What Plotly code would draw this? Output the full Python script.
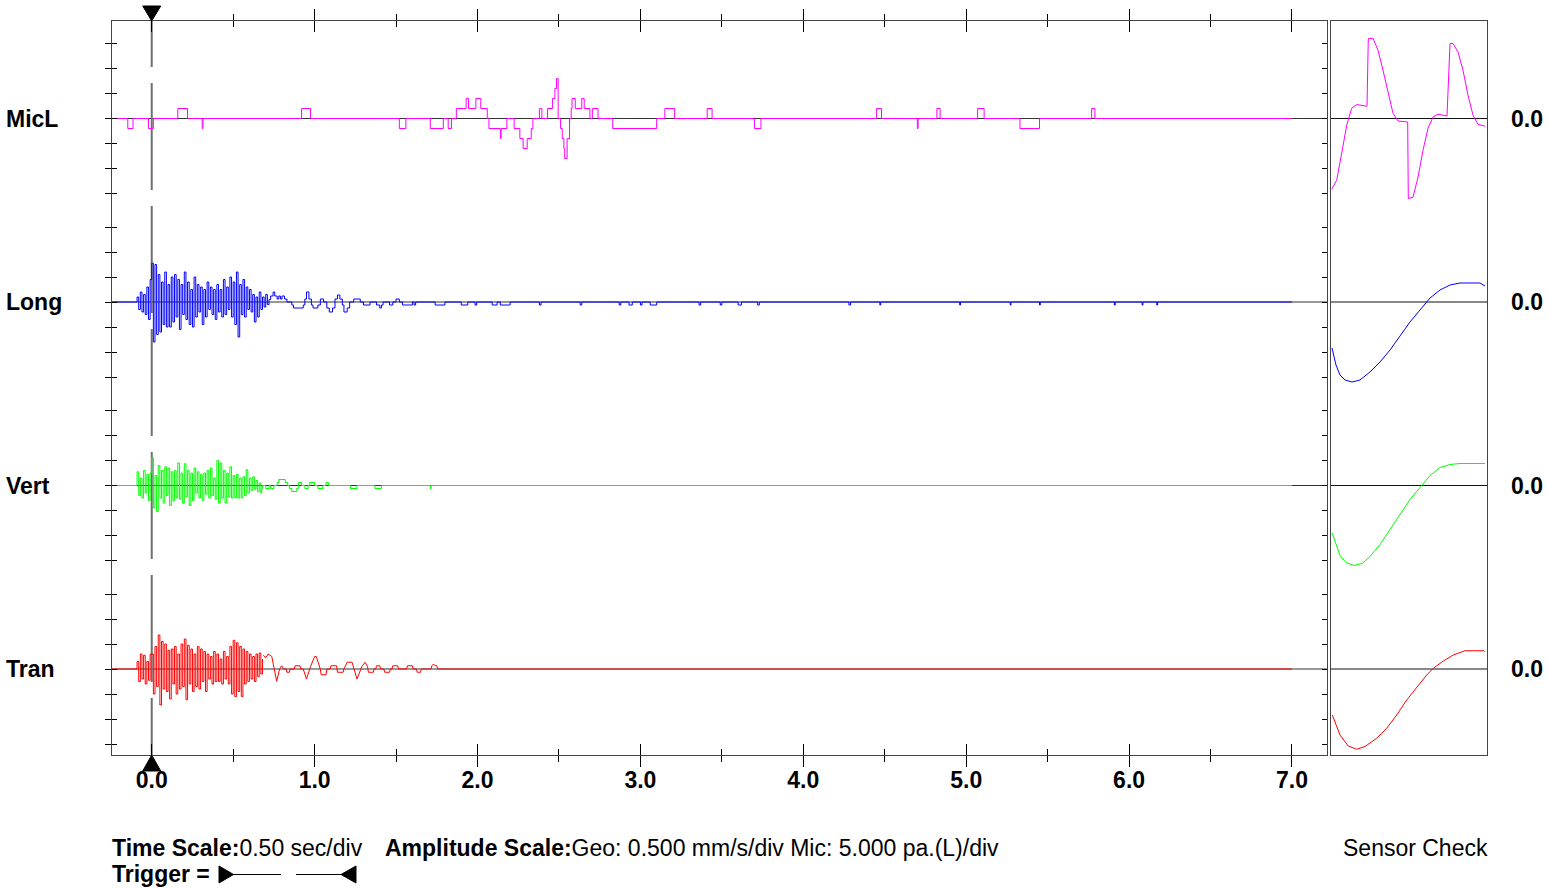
import plotly.graph_objects as go

# ---------------- data ----------------
channels = ["MicL", "Long", "Vert", "Tran"]
colors = ["#ff00ff", "#0000ff", "#00ff00", "#ff0000"]
x_tick_vals = [0, 1, 2, 3, 4, 5, 6, 7]
x_tick_text = ["0.0", "1.0", "2.0", "3.0", "4.0", "5.0", "6.0", "7.0"]
x_minor_vals = [0.5, 1.5, 2.5, 3.5, 4.5, 5.5, 6.5]
record_start = -0.247
record_end = 7.0
trigger_time = 0.0

# MicL: step change times (s) and levels (div)
mic_t = [-0.147, -0.115, -0.02, 0.01, 0.16, 0.22, 0.31, 0.315, 0.92, 0.975, 1.52, 1.56, 1.71, 1.79,
         1.82, 1.84, 1.87, 1.93, 1.945, 1.99, 2.02, 2.06, 2.07, 2.14, 2.145, 2.18, 2.225, 2.26, 2.28,
         2.305, 2.33, 2.34, 2.38, 2.395, 2.43, 2.46, 2.475, 2.485, 2.495, 2.51, 2.52, 2.53, 2.535,
         2.55, 2.565, 2.575, 2.58, 2.6, 2.64, 2.655, 2.69, 2.705, 2.74, 2.83, 3.10, 3.15, 3.21, 3.41,
         3.44, 3.7, 3.74, 4.45, 4.48, 4.7, 4.705, 4.82, 4.84, 5.07, 5.11, 5.33, 5.45, 5.77, 5.79]
mic_v = [-0.4, 0, -0.4, 0, 0.4, 0, -0.4, 0, 0.4, 0, -0.4, 0, -0.4, 0,
         -0.4, 0, 0.4, 0.8, 0.4, 0.8, 0.4, 0, -0.4, -0.8, -0.4, 0, -0.4, -0.8, -1.2,
         -0.8, -0.4, 0, 0.4, 0, 0.4, 0.8, 1.2, 1.6, 0, -0.4, -0.8, -1.2, -1.6,
         -0.8, 0, 0.4, 0.8, 0.4, 0.8, 0.4, 0, 0.4, 0, -0.4, 0, 0.4, 0, 0.4,
         0, -0.4, 0, 0.4, 0, -0.4, 0, 0.4, 0, 0.4, 0, -0.4, 0, 0.4, 0]

# Geophone bursts: sampled every 0.01 s starting at -0.09 s (div)
burst_start = -0.09
burst_dt = 0.01
long_burst = [0.2, -0.3, 0.4, -0.4, 0.3, -0.5, 0.6, -0.7, 0.9,
              1.55, -1.6, 1.5, -1.3, 1.1, -1.2, 0.8, -0.9, 1.2, -1.0,
              0.7, -1.0, 1.0, -0.8, 1.1, -0.6, 0.9, -1.1, 0.7, -0.5,
              1.2, -0.7, 0.8, -0.9, 0.5, -1.0, 1.0, -0.6, 0.7, -0.4,
              0.6, -0.9, 0.5, -0.6, 0.8, -0.3, 0.6, -0.5, 0.5, -0.7,
              0.7, -0.4, 0.5, -0.6, 0.9, -0.5, 0.6, -0.3, 1.0, -0.6,
              0.8, -0.9, 1.2, -1.4, 0.7, -0.5, 0.9, -0.6, 0.6, -0.3,
              0.5, -0.4, 0.3, -0.8, 0.2, -0.6, 0.4, -0.3, 0.2, -0.2,
              0.3, -0.1, 0.1]
vert_burst = [0.55, -0.4, 0.3, -0.5, 0.6, -0.3, 0.45, -0.6, 0.5,
              1.13, -0.9, 0.4, -1.04, 0.8, -0.5, 0.6, -0.7, 0.75, -0.4,
              0.7, -0.8, 0.55, -0.6, 0.6, -0.5, 0.9, -0.55, 0.5, -0.7,
              0.87, -0.45, 0.6, -0.8, 0.5, -0.6, 0.7, -0.3, 0.55, -0.5,
              0.45, -0.6, 0.5, -0.35, 0.6, -0.5, 0.7, -0.4, 0.3, -0.55,
              1.0, -0.7, 0.9, -0.5, 0.6, -0.7, 0.5, -0.45, 0.75, -0.5,
              0.4, -0.5, 0.45, -0.5, 0.3, -0.5, 0.35, -0.4, 0.63, -0.3,
              0.3, -0.2, 0.35, -0.15, 0.2, -0.25, 0.1, -0.3]
tran_burst = [0.3, -0.5, 0.6, -0.4, 0.55, -0.6, 0.3, -0.45, 0.6,
              0.6, -1.0, 0.9, -0.7, 1.36, -1.44, 1.1, -0.8, 1.0, -0.9,
              0.75, -1.2, 0.8, -0.6, 0.9, -1.0, 0.6, -0.8, 1.0, -0.7,
              1.2, -1.23, 0.95, -0.6, 0.8, -0.9, 0.6, -0.7, 0.9, -0.8,
              0.8, -0.5, 0.7, -0.9, 0.6, -0.4, 0.5, -0.6, 0.7, -0.5,
              0.6, -0.5, 0.4, -0.6, 0.7, -0.4, 0.5, -0.6, 0.9, -1.0,
              1.15, -1.1, 1.05, -0.9, 0.9, -1.1, 0.8, -0.6, 0.7, -0.5,
              0.6, -0.4, 0.5, -0.5, 0.6, -0.3, 0.64, -0.2, 0.4]

# Long tail: step changes, then small single-count blips
long_tail_t = [0.73, 0.745, 0.755, 0.77, 0.78, 0.79, 0.80, 0.815, 0.83, 0.86, 0.87, 0.93, 0.94, 0.95,
               0.965, 0.98, 0.99, 1.02, 1.035, 1.055, 1.075, 1.09, 1.11, 1.125, 1.14, 1.155, 1.17, 1.18,
               1.2, 1.215, 1.24, 1.28, 1.30, 1.34, 1.38, 1.40, 1.41, 1.42, 1.46, 1.48, 1.50, 1.52, 1.54, 1.60]
long_tail_v = [0.24, 0.4, 0.24, 0.12, 0.24, 0.12, 0.24, 0.12, 0, -0.12, -0.24, -0.12, 0.12, 0.4,
               0.12, -0.12, -0.24, -0.12, 0.12, 0, -0.24, -0.4, -0.24, 0.12, 0.28, 0.12, -0.12, -0.4,
               -0.24, 0, 0.12, 0, -0.12, 0, -0.12, -0.24, -0.12, 0, -0.12, 0, 0.12, 0, -0.12, 0]
long_blip_t = [1.61, 1.74, 1.90, 1.985, 2.09, 2.14, 2.38, 2.63, 2.87, 2.93, 3.0, 3.06, 3.36, 3.49,
               3.6, 3.72, 4.28, 4.47, 4.96, 5.27, 5.45, 5.91, 6.08, 6.17]
long_blip_end = [1.62, 1.80, 1.94, 1.995, 2.12, 2.20, 2.39, 2.64, 2.88, 2.95, 3.01, 3.1, 3.37, 3.5,
                 3.62, 3.73, 4.29, 4.475, 4.965, 5.275, 5.455, 5.915, 6.085, 6.175]
long_blip_v = [-0.12] * 24

vert_tail_t = [0.675, 0.68, 0.70, 0.72, 0.73, 0.75, 0.77, 0.78, 0.82, 0.835, 0.845, 0.86, 0.89, 0.90,
               0.92, 0.94, 0.96, 0.97, 1.0, 1.02, 1.05, 1.07, 1.085, 1.22, 1.26, 1.37, 1.41, 1.71, 1.715]
vert_tail_v = [-0.12, 0, -0.12, 0, -0.12, 0, 0.12, 0.24, 0.12, 0, -0.12, -0.24, -0.12, 0.12,
               0, -0.12, 0, 0.12, 0, -0.12, 0, 0.12, 0, -0.12, 0, -0.12, 0, -0.12, 0]

tran_tail_t = [0.685, 0.70, 0.715, 0.737, 0.767, 0.785, 0.798, 0.81, 0.825, 0.83, 0.845, 0.85, 0.875,
               0.88, 0.91, 0.915, 0.93, 0.95, 0.975, 1.0, 1.01, 1.035, 1.04, 1.07, 1.075, 1.095, 1.1,
               1.135, 1.14, 1.175, 1.18, 1.19, 1.2, 1.23, 1.26, 1.29, 1.31, 1.325, 1.33, 1.36, 1.365,
               1.375, 1.38, 1.4, 1.405, 1.425, 1.43, 1.46, 1.465, 1.475, 1.48, 1.51, 1.515, 1.565, 1.57,
               1.6, 1.605, 1.625, 1.63, 1.65, 1.655, 1.715, 1.72, 1.73, 1.74, 1.75, 1.755, 7.0]
tran_tail_v = [0.55, 0.45, 0.6, 0.5, -0.49, 0.0, 0.13, 0.0, 0.0, -0.13, -0.13, 0.0, 0.0,
               0.13, 0.13, 0.0, 0.0, -0.4, 0.1, 0.5, 0.5, 0.0, -0.23, -0.23, 0.0, 0.0, 0.13,
               0.13, -0.13, -0.13, 0.0, 0.13, 0.27, 0.27, -0.4, 0.1, 0.27, 0.1, -0.13, -0.13, 0.0,
               0.0, 0.13, 0.13, 0.0, 0.0, -0.13, -0.13, 0.0, 0.0, 0.13, 0.13, 0.0, 0.0, 0.13,
               0.13, 0.0, 0.0, -0.13, -0.13, 0.0, 0.0, 0.13, 0.2, 0.13, 0.13, 0.0, 0.0]

# Sensor check waveforms (time in ms, amplitude in div)
sc_mic_t = [0.7, 5.7, 10.7, 15.7, 20.7, 25.7, 36, 37.3, 42, 47, 52, 57, 62, 67, 76.7, 77.3, 82, 87, 92,
            97, 102, 107, 116, 119, 122, 127, 132, 137, 142, 147, 154]
sc_mic_v = [-2.83, -2.47, -1.39, -0.27, 0.41, 0.56, 0.49, 3.2, 3.21, 2.73, 1.93, 1.01, 0.21, -0.1, -0.14,
            -3.2, -3.15, -2.35, -1.27, -0.39, 0.06, 0.17, 0.1, 3.0, 3.0, 2.66, 1.93, 0.93, 0.13, -0.23, -0.31]
sc_long_t = [1, 5, 9, 14, 21, 29, 39, 49, 59, 69, 79, 89, 99, 109, 119, 129, 149, 154]
sc_long_v = [-1.84, -2.52, -2.92, -3.12, -3.2, -3.12, -2.8, -2.4, -1.92, -1.36, -0.8, -0.32, 0.16,
             0.48, 0.68, 0.76, 0.76, 0.64]
sc_vert_t = [1, 5, 9, 15, 23, 31, 39, 49, 59, 69, 79, 89, 99, 109, 119, 129, 154]
sc_vert_v = [-1.88, -2.36, -2.8, -3.08, -3.2, -3.12, -2.84, -2.36, -1.76, -1.16, -0.56, -0.08, 0.4,
             0.72, 0.84, 0.88, 0.88]
sc_tran_t = [1.3, 9, 17.3, 25.7, 34, 45.7, 55.7, 65.7, 75.7, 85.7, 95.7, 102.3, 112.3, 122.3, 134, 153, 154]
sc_tran_v = [-1.84, -2.64, -3.08, -3.21, -3.1, -2.77, -2.37, -1.84, -1.24, -0.73, -0.24, 0.03, 0.32,
             0.56, 0.73, 0.73, 0.69]
sc_range = [0, 156]

# ---------------- layout geometry ----------------
W, H = 1548, 888
FONT = "Liberation Sans, Arial, sans-serif"
X_RANGE = [record_start, 7.215]
Y_RANGE = [-29.36, 0]
offsets = [-3.9, -11.24, -18.58, -25.92]   # channel baselines (div from top)
main_px = (111.5, 1327)
sens_px = (1331, 1487)
top_px, bot_px = 21, 755


def px_x(p):
    return p / W


def px_y(p):
    return 1 - p / H


fig = go.Figure()


def burst_pts(vals):
    return [(burst_start + i * burst_dt, v) for i, v in enumerate(vals)]


# MicL
mx = [record_start] + mic_t + [record_end]
my = [0] + mic_v + [0]
fig.add_trace(go.Scatter(x=mx, y=[v + offsets[0] for v in my], mode="lines", line_shape="hv",
                         line=dict(color=colors[0], width=1), hoverinfo="skip", showlegend=False))

# Long
pts = [(record_start, 0)] + burst_pts(long_burst) + list(zip(long_tail_t, long_tail_v))
for t0, t1, v in zip(long_blip_t, long_blip_end, long_blip_v):
    pts += [(t0, v), (t1, 0)]
pts += [(record_end, 0)]
fig.add_trace(go.Scatter(x=[p[0] for p in pts], y=[p[1] + offsets[1] for p in pts], mode="lines",
                         line_shape="hv", line=dict(color=colors[1], width=1), hoverinfo="skip",
                         showlegend=False))

# Vert
pts = [(record_start, 0)] + burst_pts(vert_burst) + list(zip(vert_tail_t, vert_tail_v)) + [(record_end, 0)]
fig.add_trace(go.Scatter(x=[p[0] for p in pts], y=[p[1] + offsets[2] for p in pts], mode="lines",
                         line_shape="hv", line=dict(color=colors[2], width=1), hoverinfo="skip",
                         showlegend=False))

# Tran
pts = [(record_start, 0)] + burst_pts(tran_burst)
fig.add_trace(go.Scatter(x=[p[0] for p in pts], y=[p[1] + offsets[3] for p in pts], mode="lines",
                         line_shape="hv", line=dict(color=colors[3], width=1), hoverinfo="skip",
                         showlegend=False))
fig.add_trace(go.Scatter(x=tran_tail_t, y=[v + offsets[3] for v in tran_tail_v], mode="lines",
                         line=dict(color=colors[3], width=1), hoverinfo="skip", showlegend=False))

# ---- sensor check traces ----
for (tt, vv), off, col in zip([(sc_mic_t, sc_mic_v), (sc_long_t, sc_long_v), (sc_vert_t, sc_vert_v),
                               (sc_tran_t, sc_tran_v)], offsets, colors):
    fig.add_trace(go.Scatter(x=tt, y=[v + off for v in vv], xaxis="x2", yaxis="y2", mode="lines",
                             line=dict(color=col, width=1), hoverinfo="skip", showlegend=False))

# dummy trace for the inside-tick overlay axes
fig.add_trace(go.Scatter(x=[None], y=[None], xaxis="x3", yaxis="y3", showlegend=False, hoverinfo="skip"))

# ---- axes ----
y_ticks = [off + k for off in offsets for k in range(-3, 4)]
xdom = [px_x(main_px[0]), px_x(main_px[1])]
ydom = [px_y(bot_px), px_y(top_px)]
axis_line = "#444444"
tick_font = dict(family=FONT, size=23, color="black")

fig.update_layout(
    width=W, height=H, margin=dict(l=0, r=0, t=0, b=0),
    paper_bgcolor="white", plot_bgcolor="white", showlegend=False,
    xaxis=dict(domain=xdom, range=X_RANGE, anchor="y", tickvals=x_tick_vals,
               ticktext=["<b>%s</b>" % s for s in x_tick_text], tickfont=tick_font,
               ticks="outside", ticklen=11, tickwidth=1, tickcolor="black", ticklabelstandoff=-7,
               minor=dict(tickvals=x_minor_vals, ticks="outside", ticklen=6, tickcolor="black", tickwidth=1),
               showline=True, linecolor=axis_line, linewidth=1, mirror="ticks",
               showgrid=False, zeroline=False, fixedrange=True),
    xaxis3=dict(overlaying="x", range=X_RANGE, anchor="y3", side="bottom", tickvals=x_tick_vals,
                showticklabels=False, ticks="inside", ticklen=11, tickwidth=1, tickcolor="black",
                minor=dict(tickvals=x_minor_vals, ticks="inside", ticklen=6, tickcolor="black", tickwidth=1),
                showline=True, linecolor=axis_line, mirror="ticks", showgrid=False, zeroline=False),
    yaxis=dict(domain=ydom, range=Y_RANGE, anchor="x", tickvals=y_ticks, showticklabels=False,
               ticks="outside", ticklen=6, tickwidth=1, tickcolor="black",
               showline=True, linecolor=axis_line, linewidth=1, mirror=True,
               showgrid=False, zeroline=False, fixedrange=True),
    yaxis3=dict(overlaying="y", range=Y_RANGE, anchor="x3", side="left", tickvals=y_ticks,
                showticklabels=False, ticks="inside", ticklen=5, tickwidth=1, tickcolor="black",
                showline=True, linecolor=axis_line, mirror="ticks", showgrid=False, zeroline=False),
    xaxis2=dict(domain=[px_x(sens_px[0]), px_x(sens_px[1])], range=sc_range, anchor="y2",
                showticklabels=False, ticks="", showline=True, linecolor=axis_line, mirror=True,
                showgrid=False, zeroline=False, fixedrange=True),
    yaxis2=dict(domain=ydom, range=Y_RANGE, anchor="x2", showticklabels=False, ticks="",
                showline=True, linecolor=axis_line, mirror=True, showgrid=False, zeroline=False,
                fixedrange=True),
)

# ---- shapes ----
shapes = []
for off in offsets:
    shapes.append(dict(type="line", xref="x domain", yref="y", x0=0, x1=1, y0=off, y1=off,
                       line=dict(color="#333333", width=1), layer="below"))
    shapes.append(dict(type="line", xref="x2 domain", yref="y2", x0=0, x1=1, y0=off, y1=off,
                       line=dict(color="#111111", width=1), layer="below"))

# trigger marker line (dashed)
shapes.append(dict(type="line", xref="x", yref="paper", x0=trigger_time, x1=trigger_time,
                   y0=px_y(top_px), y1=px_y(67), line=dict(color="#6e6e6e", width=2), layer="below"))
shapes.append(dict(type="line", xref="x", yref="paper", x0=trigger_time, x1=trigger_time,
                   y0=px_y(83), y1=px_y(bot_px), line=dict(color="#6e6e6e", width=2, dash="107px,16px"),
                   layer="below"))

# trigger triangles
sec_per_px = (X_RANGE[1] - X_RANGE[0]) / (main_px[1] - main_px[0])
hw = 9 * sec_per_px
shapes.append(dict(type="path", xref="x", yref="paper",
                   path="M %f,%f L %f,%f L %f,%f Z" % (trigger_time - hw, px_y(6), trigger_time + hw, px_y(6),
                                                      trigger_time, px_y(top_px)),
                   fillcolor="black", line=dict(color="black", width=1)))
shapes.append(dict(type="path", xref="x", yref="paper",
                   path="M %f,%f L %f,%f L %f,%f Z" % (trigger_time - hw, px_y(771), trigger_time + hw, px_y(771),
                                                      trigger_time, px_y(bot_px)),
                   fillcolor="black", line=dict(color="black", width=1)))

# "Trigger =" legend glyphs
ly = px_y(874.5)
shapes.append(dict(type="path", xref="paper", yref="paper",
                   path="M %f,%f L %f,%f L %f,%f Z" % (px_x(219), px_y(866), px_x(219), px_y(883), px_x(233.5), ly),
                   fillcolor="black", line=dict(color="black", width=1)))
shapes.append(dict(type="line", xref="paper", yref="paper", x0=px_x(233), x1=px_x(281), y0=ly, y1=ly,
                   line=dict(color="black", width=1)))
shapes.append(dict(type="line", xref="paper", yref="paper", x0=px_x(296), x1=px_x(341), y0=ly, y1=ly,
                   line=dict(color="black", width=1)))
shapes.append(dict(type="path", xref="paper", yref="paper",
                   path="M %f,%f L %f,%f L %f,%f Z" % (px_x(356), px_y(866), px_x(356), px_y(883), px_x(341), ly),
                   fillcolor="black", line=dict(color="black", width=1)))
fig.update_layout(shapes=shapes)

# ---- annotations ----
ann = []
for name, off in zip(channels, offsets):
    ann.append(dict(text="<b>%s</b>" % name, xref="paper", yref="y", x=px_x(4), y=off, xanchor="left",
                    yanchor="middle", showarrow=False, font=dict(family=FONT, size=23, color="black")))
    ann.append(dict(text="<b>0.0</b>", xref="paper", yref="y", x=px_x(1509), y=off, xanchor="left",
                    yanchor="middle", showarrow=False, font=dict(family=FONT, size=23, color="black")))

txt_font = dict(family=FONT, size=23, color="black")
ann.append(dict(text="<b>Time Scale:</b>0.50 sec/div", xref="paper", yref="paper", x=px_x(110), y=px_y(848),
                xanchor="left", yanchor="middle", showarrow=False, font=txt_font))
ann.append(dict(text="<b>Amplitude Scale:</b>Geo: 0.500 mm/s/div Mic: 5.000 pa.(L)/div", xref="paper",
                yref="paper", x=px_x(383), y=px_y(848), xanchor="left", yanchor="middle", showarrow=False,
                font=txt_font))
ann.append(dict(text="Sensor Check", xref="paper", yref="paper", x=px_x(1490), y=px_y(848),
                xanchor="right", yanchor="middle", showarrow=False, font=txt_font))
ann.append(dict(text="<b>Trigger =</b>", xref="paper", yref="paper", x=px_x(110), y=px_y(874),
                xanchor="left", yanchor="middle", showarrow=False, font=txt_font))
fig.update_layout(annotations=ann)

fig.write_html("out.html")
